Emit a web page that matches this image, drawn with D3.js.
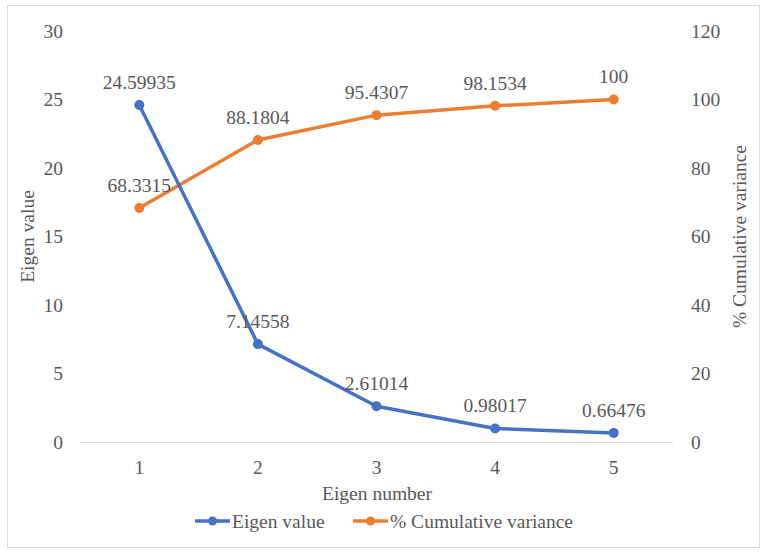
<!DOCTYPE html>
<html><head><meta charset="utf-8">
<script src="https://cdn.jsdelivr.net/npm/d3@7"></script>
<style>
html,body{margin:0;padding:0;background:#fff;}
</style></head>
<body>
<svg id="c" width="767" height="556" font-family="Liberation Serif" style="font-family:'Liberation Serif',serif"></svg>
<script>
const categories = ["1","2","3","4","5"];
const eigenValues = [24.59935, 7.14558, 2.61014, 0.98017, 0.66476];
const eigenLabels = ["24.59935","7.14558","2.61014","0.98017","0.66476"];
const cumVariance = [68.3315, 88.1804, 95.4307, 98.1534, 100];
const cumLabels = ["68.3315","88.1804","95.4307","98.1534","100"];
const leftTicks = [0,5,10,15,20,25,30];
const rightTicks = [0,20,40,60,80,100,120];

const svg = d3.select("#c");
const blue = "#4472C4", orange = "#ED7D31";
const fs = 19.5;
const tc = "#595959";
const ff = "'Liberation Serif', 'Times New Roman', serif";

svg.append("rect").attr("x",7.5).attr("y",5.5).attr("width",752).attr("height",542)
  .attr("fill","#fff").attr("stroke","#D9D9D9").attr("stroke-width",1);

const plot = {left:80, right:673, top:31, bottom:442};
const x = d3.scaleBand().domain(categories).range([plot.left, plot.right]);
const yL = d3.scaleLinear().domain([0,30]).range([plot.bottom, plot.top]);
const yR = d3.scaleLinear().domain([0,120]).range([plot.bottom, plot.top]);
const cx = d => x(d) + x.bandwidth()/2;

function T(sel){ return sel.attr("font-family",ff).style("font-family",ff).attr("fill",tc).attr("font-size",fs); }

svg.append("line").attr("x1",plot.left).attr("x2",plot.right)
  .attr("y1",yL(0)+0.5).attr("y2",yL(0)+0.5).attr("stroke","#D9D9D9").attr("stroke-width",1);

T(svg.append("g").selectAll("text").data(leftTicks).join("text")
  .attr("x",63).attr("y",d=>yL(d)).attr("dy","0.35em").attr("text-anchor","end").text(d=>d));
T(svg.append("g").selectAll("text").data(rightTicks).join("text")
  .attr("x",691).attr("y",d=>yR(d)).attr("dy","0.35em").attr("text-anchor","start").text(d=>d));
T(svg.append("g").selectAll("text").data(categories).join("text")
  .attr("x",d=>cx(d)).attr("y",467).attr("dy","0.35em").attr("text-anchor","middle").text(d=>d));

T(svg.append("text").attr("x",377).attr("y",493).attr("dy","0.35em").attr("text-anchor","middle").text("Eigen number"));
T(svg.append("text").attr("transform",`translate(27,${(plot.top+plot.bottom)/2}) rotate(-90)`)
  .attr("dy","0.35em").attr("text-anchor","middle").text("Eigen value"));
T(svg.append("text").attr("transform",`translate(739,${(plot.top+plot.bottom)/2}) rotate(-90)`)
  .attr("dy","0.35em").attr("text-anchor","middle").text("% Cumulative variance"));

function series(vals, labels, y, color){
  const line = d3.line().x((d,i)=>cx(categories[i])).y(d=>y(d));
  svg.append("path").datum(vals).attr("d",line).attr("fill","none")
    .attr("stroke",color).attr("stroke-width",3.5).attr("stroke-linejoin","round");
  svg.append("g").selectAll("circle").data(vals).join("circle")
    .attr("cx",(d,i)=>cx(categories[i])).attr("cy",d=>y(d)).attr("r",5).attr("fill",color);
  T(svg.append("g").selectAll("text").data(vals).join("text")
    .attr("x",(d,i)=>cx(categories[i])).attr("y",d=>y(d)-23).attr("dy","0.35em")
    .attr("text-anchor","middle").text((d,i)=>labels[i]));
}
series(cumVariance, cumLabels, yR, orange);
series(eigenValues, eigenLabels, yL, blue);

const leg = [{name:"Eigen value", color:blue, x:195},{name:"% Cumulative variance", color:orange, x:353}];
const lg = svg.append("g").selectAll("g").data(leg).join("g");
lg.append("line").attr("x1",d=>d.x).attr("x2",d=>d.x+35).attr("y1",521).attr("y2",521)
  .attr("stroke",d=>d.color).attr("stroke-width",3.5);
lg.append("circle").attr("cx",d=>d.x+17.5).attr("cy",521).attr("r",4.5).attr("fill",d=>d.color);
T(lg.append("text").attr("x",d=>d.x+37).attr("y",521).attr("dy","0.35em").text(d=>d.name));
</script>
</body></html>
